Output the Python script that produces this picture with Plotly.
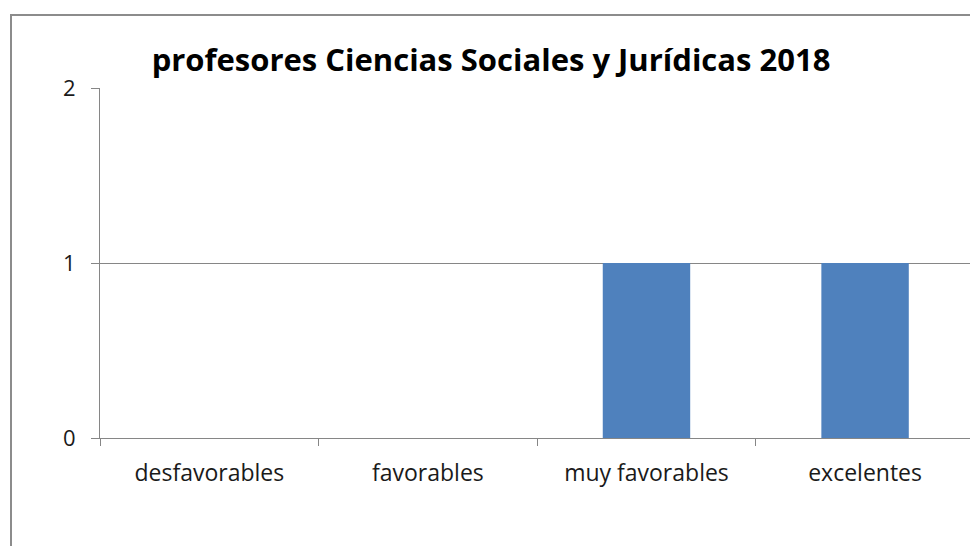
import plotly.graph_objects as go

categories = ["desfavorables", "favorables", "muy favorables", "excelentes"]
values = [0, 0, 1, 1]
title_text = "profesores Ciencias Sociales y Jurídicas 2018"
y_ticks = [0, 1, 2]

W, H = 970, 546
L, R, T, B = 100, 0, 88, 108

fig = go.Figure(go.Bar(x=categories, y=values, marker=dict(color="#4F81BD", line=dict(width=0)), width=0.4))

plot_w = W - L - R
plot_h = H - T - B
fig.add_shape(type="rect", xref="paper", yref="paper",
              x0=(11 - L) / plot_w, x1=1.1,
              y0=-0.6, y1=(H - B - 15) / plot_h,
              line=dict(color="#8C8C8C", width=2), layer="below")

fig.update_layout(
    width=W, height=H,
    margin=dict(l=L, r=R, t=T, b=B, pad=0),
    paper_bgcolor="white", plot_bgcolor="white",
    showlegend=False,
    font=dict(family="Open Sans", color="#1a1a1a"),
    title=dict(text="<b>" + title_text + "</b>", x=491 / W, xanchor="center",
               y=1 - 60 / H, yanchor="middle",
               font=dict(family="Open Sans", size=31, color="black")),
    xaxis=dict(range=[-0.5, 3.48], tickson="boundaries", ticks="outside", ticklen=7,
               tickcolor="#868686", showline=True, linecolor="#868686", linewidth=1,
               showgrid=False, tickfont=dict(size=23, color="#1a1a1a"),
               ticklabelstandoff=14),
    yaxis=dict(range=[0, 2], tickvals=y_ticks, ticks="outside", ticklen=8,
               tickcolor="#868686", showline=True, linecolor="#868686", linewidth=1,
               showgrid=True, gridcolor="#868686", gridwidth=1, zeroline=False,
               tickfont=dict(size=22, color="#1a1a1a"), ticklabelstandoff=11),
    bargap=0.6,
)

fig.write_html("out.html", config={"displayModeBar": False},
               post_script="document.body.style.margin='0';document.body.style.overflow='hidden';")
